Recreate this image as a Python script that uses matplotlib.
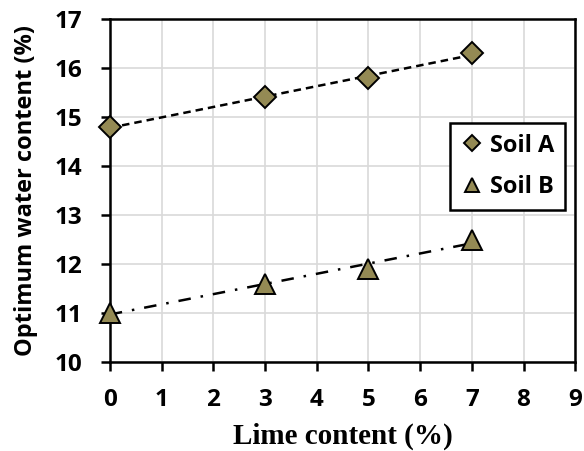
import matplotlib
matplotlib.use("Agg")
import matplotlib.pyplot as plt
import numpy as np

# lime content (%) and optimum water content (%)
lime = [0, 3, 5, 7]
soil_a = [14.8, 15.4, 15.8, 16.3]
soil_b = [11.0, 11.6, 11.9, 12.5]

x_ticks = list(range(0, 10))
y_ticks = list(range(10, 18))

marker_color = "#948a54"
sans = "Open Sans"

fig = plt.figure(figsize=(5.84, 4.51), dpi=100)
ax = fig.add_axes([0.188, 0.197, 0.797, 0.761])

# linear trendlines
xs = np.array([min(lime), max(lime)])
pa = np.polyfit(lime, soil_a, 1)
pb = np.polyfit(lime, soil_b, 1)
ax.plot(xs, np.polyval(pa, xs), color="black", lw=1.8, ls=(0, (3, 2)), zorder=3)
ax.plot(xs, np.polyval(pb, xs), color="black", lw=1.8,
        ls=(0, (5, 4, 1, 4)), zorder=3)

ax.plot(lime, soil_a, ls="none", marker="D", ms=11, mfc=marker_color,
        mec="black", mew=1.4, label="Soil A", zorder=4, clip_on=False)
ax.plot(lime, soil_b, ls="none", marker="^", ms=14, mfc=marker_color,
        mec="black", mew=1.4, label="Soil B", zorder=4, clip_on=False)

ax.set_xlim(0, 9)
ax.set_ylim(10, 17)
ax.set_xticks(x_ticks)
ax.set_yticks(y_ticks)
ax.grid(True, color="#d9d9d9", lw=1.2)
ax.set_axisbelow(True)

for s in ax.spines.values():
    s.set_linewidth(1.8)
    s.set_color("black")
ax.tick_params(direction="out", length=6.5, width=1.8, labelsize=17.5, colors="black")
for lab in ax.get_xticklabels() + ax.get_yticklabels():
    lab.set_fontfamily(sans)
    lab.set_fontweight("bold")
ax.tick_params(axis="x", pad=12)
ax.tick_params(axis="y", pad=13)

ax.set_xlabel("Lime content (%)", fontfamily="Liberation Serif",
              fontweight="bold", fontsize=21, va="center")
ax.xaxis.set_label_coords(0.5, -0.215)
ax.set_ylabel("Optimum water content (%)", fontfamily=sans,
              fontweight="bold", fontsize=17, va="center")
ax.yaxis.set_label_coords(-0.18, 0.5)

leg = ax.legend(loc="upper right", bbox_to_anchor=(0.978, 0.697),
                prop={"family": sans, "weight": "bold", "size": 17},
                frameon=True, fancybox=False, edgecolor="black",
                borderpad=0.45, labelspacing=0.75, handletextpad=0.25,
                handlelength=1.0, markerscale=0.75, borderaxespad=0)
leg.get_frame().set_linewidth(1.8)
leg.get_frame().set_alpha(1)

fig.savefig("out.png", dpi=100)
